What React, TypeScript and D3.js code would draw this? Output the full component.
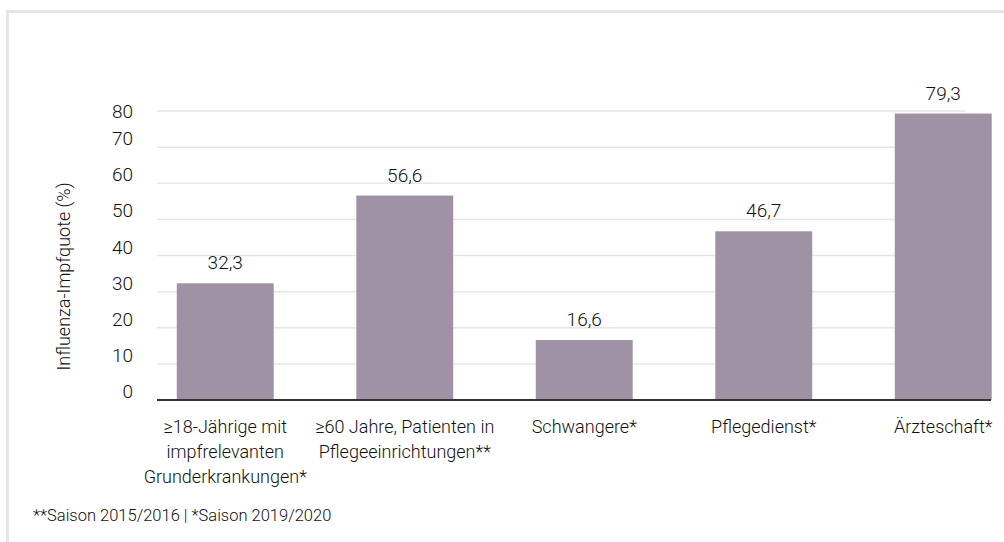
import React from "react";
import * as d3 from "d3";

const categories = [
  "≥18-Jährige mit\nimpfrelevanten\nGrunderkrankungen*",
  "≥60 Jahre, Patienten in\nPflegeeinrichtungen**",
  "Schwangere*",
  "Pflegedienst*",
  "Ärzteschaft*",
];
const values = [32.3, 56.6, 16.6, 46.7, 79.3];
const valueLabels = ["32,3", "56,6", "16,6", "46,7", "79,3"];
const yTicks = [0, 10, 20, 30, 40, 50, 60, 70, 80];
const yTitle = "Influenza-Impfquote (%)";
const footnote = "**Saison 2015/2016 | *Saison 2019/2020";

const W = 1004;
const H = 542;
const FONT = "Roboto, 'Noto Sans', sans-serif";
const BAR = "#9f92a5";
const TXT = "#111";

export default function App() {
  const x = d3
    .scaleBand<string>()
    .domain(categories)
    .range([135.5, 1033])
    .paddingInner(0.46)
    .paddingOuter(0.23);
  const y = d3.scaleLinear().domain([0, 80]).range([400, 111]);
  const gridX0 = 157;
  const gridX1 = 965;
  const baseX1 = 991;

  return (
    <svg
      width={W}
      height={H}
      style={{ position: "absolute", left: 0, top: 0, background: "#fff" }}
      fontFamily={FONT}
      fontWeight={300}
    >
      <rect x={7.5} y={11.5} width={W + 20} height={H + 20} fill="none" stroke="#e5e5e5" strokeWidth={3} />
      {yTicks.slice(1).map((t) => (
        <line key={t} x1={gridX0} x2={gridX1} y1={y(t)} y2={y(t)} stroke="#e6e6e6" strokeWidth={1.5} />
      ))}
      {yTicks.map((t) => (
        <text
          key={"l" + t}
          x={133}
          y={Math.max(y(t) - 8.5, y(80) + 0.5)}
          textAnchor="end"
          dominantBaseline="central"
          fontSize={19}
          fill={TXT}
        >
          {t}
        </text>
      ))}
      <text
        transform={`translate(63,${(y(0) + y(80)) / 2 + 21}) rotate(-90)`}
        textAnchor="middle"
        dominantBaseline="central"
        fontSize={18}
        fill={TXT}
      >
        {yTitle}
      </text>
      {categories.map((c, i) => (
        <rect
          key={c}
          x={x(c)}
          y={y(values[i])}
          width={x.bandwidth()}
          height={y(0) - y(values[i])}
          fill={BAR}
        />
      ))}
      {categories.map((c, i) => (
        <text
          key={"v" + c}
          x={(x(c) as number) + x.bandwidth() / 2}
          y={y(values[i]) - 14}
          textAnchor="middle"
          fontSize={19}
          fill={TXT}
        >
          {valueLabels[i]}
        </text>
      ))}
      <line x1={gridX0} x2={baseX1} y1={y(0)} y2={y(0)} stroke="#333" strokeWidth={2} />
      {categories.map((c) => (
        <text
          key={"c" + c}
          x={(x(c) as number) + x.bandwidth() / 2}
          y={433}
          textAnchor="middle"
          fontSize={18}
          fill={TXT}
        >
          {c.split("\n").map((line, j) => (
            <tspan key={j} x={(x(c) as number) + x.bandwidth() / 2} dy={j === 0 ? 0 : 25}>
              {line}
            </tspan>
          ))}
        </text>
      ))}
      <text x={33} y={521} fontSize={16.5} fill={TXT}>
        {footnote}
      </text>
    </svg>
  );
}
